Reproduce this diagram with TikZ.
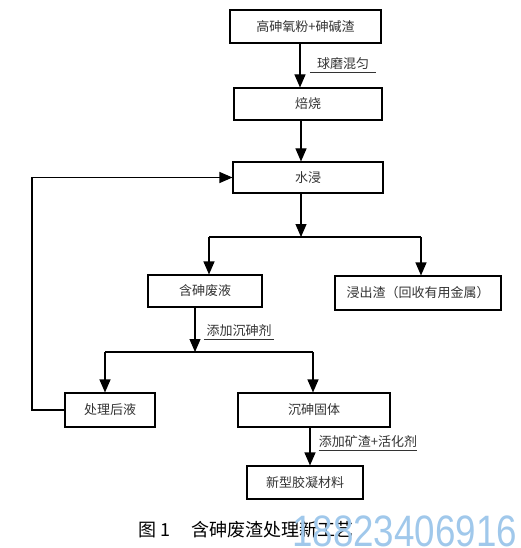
\documentclass[tikz,border=0pt]{standalone}
\usepackage{fontspec}
\setmainfont{Liberation Serif}
\newfontfamily\cjk{Noto Sans CJK SC}
\newfontfamily\markfont{Liberation Sans}
\usetikzlibrary{arrows.meta}
\definecolor{markblue}{RGB}{160,200,235}

\tikzset{
  stepbox/.style={draw, line width=1.1pt, rectangle, inner sep=0pt, text=black!80, font=\cjk\fontsize{13}{13}\selectfont},
  flow/.style={line width=1.1pt, -{Triangle[width=11pt,length=13pt]}},
  link/.style={line width=1.1pt},
  addnote/.style={inner sep=0pt, minimum height=16pt, text=black!80, font=\cjk\fontsize{13}{13}\selectfont},
  underline/.style={line width=0.8pt, black!80},
}

\begin{document}
\begin{tikzpicture}[x=1pt,y=-1pt]
\useasboundingbox (0,0) rectangle (521,548);

%%Process boxes
\node[stepbox, minimum width=151pt, minimum height=33pt] (feed) at (305.5,26.5) {高砷氧粉+砷碱渣};
\node[stepbox, minimum width=148pt, minimum height=32pt] (roast) at (308,104) {焙烧};
\node[stepbox, minimum width=150pt, minimum height=31pt] (leach) at (308,177.5) {水浸};
\node[stepbox, minimum width=114pt, minimum height=32pt] (waste) at (205,291) {含砷废液};
\node[stepbox, minimum width=166pt, minimum height=34pt] (residue) at (418,293) {浸出渣（回收有用金属）};
\node[stepbox, minimum width=90pt, minimum height=34pt] (treated) at (110,410) {处理后液};
\node[stepbox, minimum width=152pt, minimum height=34pt] (solid) at (314,410) {沉砷固体};
\node[stepbox, minimum width=116pt, minimum height=33pt] (binder) at (305,482.5) {新型胶凝材料};

%%Added agents
\node[addnote, minimum width=66pt] (mill) at (343,64) {球磨混匀};
\node[addnote, minimum width=70pt] (precip) at (239,331) {添加沉砷剂};
\node[addnote, minimum width=96pt] (slag) at (368,442) {添加矿渣+活化剂};
\draw[underline] (mill.south west) -- (mill.south east);
\draw[underline] (precip.south west) -- (precip.south east);
\draw[underline] (slag.south west) -- (slag.south east);

%%Junctions
\coordinate (split1) at (301,237);
\coordinate (split1l) at (209,237);
\coordinate (split1r) at (421,237);
\coordinate (split2) at (195,352);
\coordinate (split2l) at (105,352);
\coordinate (split2r) at (313,352);
\coordinate (loopbot) at (32,410);
\coordinate (looptop) at (32,177.5);

%%Main line
\draw[flow] ([xshift=-5.5pt]feed.south) -- ([xshift=-5.5pt]feed.south |- roast.north);
\draw[flow] (roast.south -| split1) -- (leach.north -| split1);
\draw[flow] (leach.south -| split1) -- (split1);
\draw[link] (split1l) -- (split1r);
\draw[flow] (split1l) -- (split1l |- waste.north);
\draw[flow] (split1r) -- (split1r |- residue.north);

%%Precipitation
\draw[flow] (waste.south -| split2) -- (split2);
\draw[link] (split2l) -- (split2r);
\draw[flow] (split2l) -- (split2l |- treated.north);
\draw[flow] (split2r) -- (split2r |- solid.north);
\draw[flow] ([xshift=-4pt]solid.south) -- ([xshift=-4pt]solid.south |- binder.north);

%%Recycle
\draw[flow] (treated.west) -- (loopbot) -- (looptop) -- (leach.west);

%%Caption
\node[font=\cjk\fontsize{18}{18}\selectfont] (caption) at (246,530) {图 1\hspace{1.2em}含砷废渣处理新工艺};
\node[anchor=base west, inner sep=0pt, text=markblue, font=\markfont\fontsize{44}{44}\selectfont] (mark) at (292,546) {\scalebox{0.835}[1]{18823406916}};

\end{tikzpicture}
\end{document}
